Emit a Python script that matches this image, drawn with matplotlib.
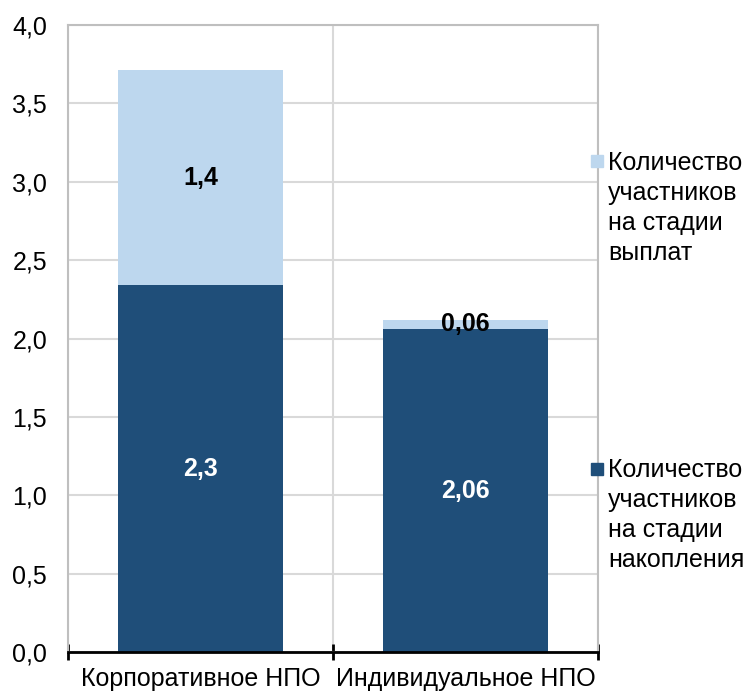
import numpy as np
import matplotlib.pyplot as plt
from matplotlib.ticker import FuncFormatter

plt.rcParams['font.family'] = ['Liberation Sans', 'DejaVu Sans']

categories = ["Корпоративное НПО", "Индивидуальное НПО"]
accum = [2.34, 2.06]
payout = [1.37, 0.06]
accum_labels = ["2,3", "2,06"]
payout_labels = ["1,4", "0,06"]
legend_payout = "Количество\nучастников\nна стадии\nвыплат"
legend_accum = "Количество\nучастников\nна стадии\nнакопления"

dark = "#1F4E79"
light = "#BDD7EE"
fs = 18

fig = plt.figure(figsize=(7.48, 6.94), dpi=100)
ax = fig.add_axes([68 / 748, 42 / 694, 530 / 748, 627 / 694])

x = np.arange(len(categories))
width = 0.62
ax.bar(x, accum, width, color=dark, zorder=3)
ax.bar(x, payout, width, bottom=accum, color=light, zorder=3)

for i in range(len(x)):
    ax.text(x[i], accum[i] / 2, accum_labels[i], ha='center', va='center',
            color='white', fontsize=fs, fontweight='bold', zorder=4)
    ax.text(x[i], accum[i] + payout[i] / 2, payout_labels[i], ha='center',
            va='center', color='black', fontsize=fs, fontweight='bold', zorder=4)

ax.set_xlim(-0.5, 1.5)
ax.set_ylim(0, 4.0)
ax.set_yticks(np.arange(0, 4.01, 0.5))
ax.yaxis.set_major_formatter(FuncFormatter(lambda v, p: f"{v:.1f}".replace('.', ',')))
ax.tick_params(axis='y', length=0, pad=15, labelsize=fs)

ax.set_xticks(x)
ax.set_xticklabels(categories, fontsize=fs)
ax.set_xticks([-0.5, 0.5, 1.5], minor=True)
ax.tick_params(axis='x', which='major', length=0, pad=11)
ax.tick_params(axis='x', which='minor', direction='inout', length=12, width=2, color='black')

ax.grid(axis='y', color='#d9d9d9', linewidth=1.5, zorder=0)
ax.grid(axis='x', which='minor', color='#d9d9d9', linewidth=1.5, zorder=0)

for s in ['left', 'top', 'right']:
    ax.spines[s].set_color('#bfbfbf')
    ax.spines[s].set_linewidth(1.5)
ax.spines['bottom'].set_color('black')
ax.spines['bottom'].set_linewidth(2)
ax.spines['bottom'].set_zorder(5)

# legend drawn as text with square markers
fig.text(608 / 748, 1 - 151 / 694, legend_payout, ha='left', va='top',
         fontsize=fs, linespacing=1.32)
fig.text(608 / 748, 1 - 458 / 694, legend_accum, ha='left', va='top',
         fontsize=fs, linespacing=1.32)
fig.add_artist(plt.Line2D([597 / 748], [1 - 161 / 694], marker='s', markersize=9,
                          color=light, linestyle='none'))
fig.add_artist(plt.Line2D([597 / 748], [1 - 469 / 694], marker='s', markersize=9,
                          color=dark, linestyle='none'))

fig.savefig("out.png", dpi=100)
